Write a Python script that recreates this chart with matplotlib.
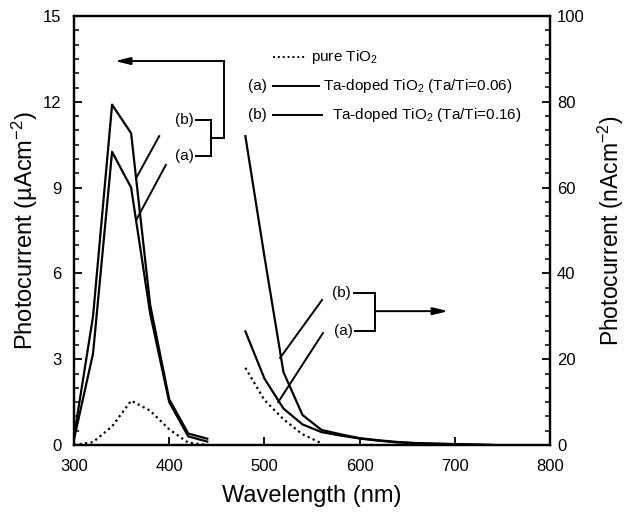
import matplotlib
matplotlib.use("Agg")
import matplotlib.pyplot as plt
from matplotlib.lines import Line2D
from matplotlib.ticker import MultipleLocator, FixedLocator
import numpy as np

plt.rcParams['font.family'] = ['Liberation Sans', 'DejaVu Sans']
plt.rcParams['mathtext.fontset'] = 'custom'
plt.rcParams['mathtext.rm'] = 'Liberation Sans'
plt.rcParams['mathtext.it'] = 'Liberation Sans:italic'

# UV region (left axis, uA/cm2)
wl_uv = [300, 320, 340, 360, 380, 400, 420, 440]
uv_a = [0.2, 3.2, 10.25, 9.0, 4.6, 1.5, 0.3, 0.12]
uv_b = [0.3, 4.5, 11.9, 10.9, 4.9, 1.6, 0.4, 0.22]
uv_pure = [0.0, 0.1, 0.65, 1.55, 1.2, 0.55, 0.08, 0.0]

# Visible region (right axis, nA/cm2)
wl_vis = [480, 500, 520, 540, 560, 580, 600, 620, 640, 660, 680, 700, 720, 740]
vis_a = [26.5, 15.5, 8.5, 4.8, 3.0, 2.2, 1.5, 1.0, 0.6, 0.4, 0.3, 0.2, 0.1, 0.0]
vis_b = [72.0, 44.0, 17.0, 7.0, 3.5, 2.5, 1.6, 1.1, 0.7, 0.45, 0.3, 0.2, 0.1, 0.0]
wl_vis_pure = [480, 500, 520, 540, 560]
vis_pure = [18.0, 10.5, 6.0, 2.5, 0.4]

fig = plt.figure(figsize=(6.29, 5.12), dpi=100)
ax = fig.add_axes([74/629, 1-445/512, 476/629, 429/512])
ax2 = ax.twinx()

lw = 1.6
ax.plot(wl_uv, uv_b, color='black', lw=lw)
ax.plot(wl_uv, uv_a, color='black', lw=lw)
ax.plot(wl_uv, uv_pure, color='black', lw=lw, ls=(0, (1, 1.5)))
ax2.plot(wl_vis, vis_b, color='black', lw=lw)
ax2.plot(wl_vis, vis_a, color='black', lw=lw)
ax2.plot(wl_vis_pure, vis_pure, color='black', lw=lw, ls=(0, (1, 1.5)))

ax.set_xlim(300, 800)
ax.set_ylim(0, 15)
ax2.set_ylim(0, 100)
ax.xaxis.set_major_locator(MultipleLocator(100))
ax.yaxis.set_major_locator(MultipleLocator(3))
ax.yaxis.set_minor_locator(MultipleLocator(0.5))
ax2.yaxis.set_major_locator(MultipleLocator(20))
ax2.yaxis.set_minor_locator(FixedLocator(np.arange(0, 100.01, 100/30)))

for a in (ax, ax2):
    for s in a.spines.values():
        s.set_linewidth(1.6)
    a.tick_params(direction='in', which='major', length=6, width=1.3, labelsize=12)
    a.tick_params(direction='in', which='minor', length=3.5, width=1.1)
ax.tick_params(axis='x', top=False, pad=10)
ax.tick_params(axis='y', pad=9)
ax2.tick_params(axis='y', pad=5)

ax.set_xlabel('Wavelength (nm)', fontsize=17, labelpad=8)
ax.set_ylabel('Photocurrent (µAcm$^{-2}$)', fontsize=17, labelpad=2)
ax2.set_ylabel(r'Photocurrent (nAcm$^{-2}$)', fontsize=16.5, rotation=90, labelpad=8)

T = ax.transAxes
def seg(x0, y0, x1, y1, ls='-'):
    ax.add_line(Line2D([x0, x1], [y0, y1], transform=T, color='black', lw=1.4, ls=ls, clip_on=False))

fs = 11
# Left bracket + arrow
ax.text(0.252, 0.758, '(b)', transform=T, ha='right', va='center', fontsize=fs)
ax.text(0.252, 0.674, '(a)', transform=T, ha='right', va='center', fontsize=fs)
seg(0.256, 0.758, 0.288, 0.758)
seg(0.256, 0.674, 0.288, 0.674)
seg(0.288, 0.758, 0.288, 0.674)
seg(0.288, 0.716, 0.315, 0.716)
seg(0.315, 0.716, 0.315, 0.895)
ax.annotate('', xy=(0.086, 0.895), xytext=(0.316, 0.895), xycoords=T, textcoords=T,
            arrowprops=dict(arrowstyle='-|>,head_length=0.9,head_width=0.22', color='black', lw=1.4, shrinkA=0, shrinkB=0))
seg(0.179, 0.720, 0.132, 0.625)
seg(0.193, 0.653, 0.132, 0.527)

# Right bracket + arrow
ax.text(0.582, 0.354, '(b)', transform=T, ha='right', va='center', fontsize=fs)
ax.text(0.586, 0.266, '(a)', transform=T, ha='right', va='center', fontsize=fs)
seg(0.588, 0.354, 0.632, 0.354)
seg(0.590, 0.266, 0.632, 0.266)
seg(0.632, 0.354, 0.632, 0.266)
ax.annotate('', xy=(0.786, 0.312), xytext=(0.632, 0.312), xycoords=T, textcoords=T,
            arrowprops=dict(arrowstyle='-|>,head_length=0.9,head_width=0.22', color='black', lw=1.4, shrinkA=0, shrinkB=0))
seg(0.521, 0.338, 0.433, 0.203)
seg(0.523, 0.261, 0.429, 0.100)

# Legend
seg(0.418, 0.904, 0.489, 0.904, ls=(0, (1, 1.5)))
ax.text(0.498, 0.904, r'pure TiO$_2$', transform=T, ha='left', va='center', fontsize=fs)
ax.text(0.405, 0.837, '(a)', transform=T, ha='right', va='center', fontsize=fs)
seg(0.418, 0.837, 0.515, 0.837)
ax.text(0.523, 0.837, r'Ta-doped TiO$_2$ (Ta/Ti=0.06)', transform=T, ha='left', va='center', fontsize=fs)
ax.text(0.405, 0.769, '(b)', transform=T, ha='right', va='center', fontsize=fs)
seg(0.418, 0.769, 0.521, 0.769)
ax.text(0.542, 0.769, r'Ta-doped TiO$_2$ (Ta/Ti=0.16)', transform=T, ha='left', va='center', fontsize=fs)

fig.savefig('out.png', dpi=100)
